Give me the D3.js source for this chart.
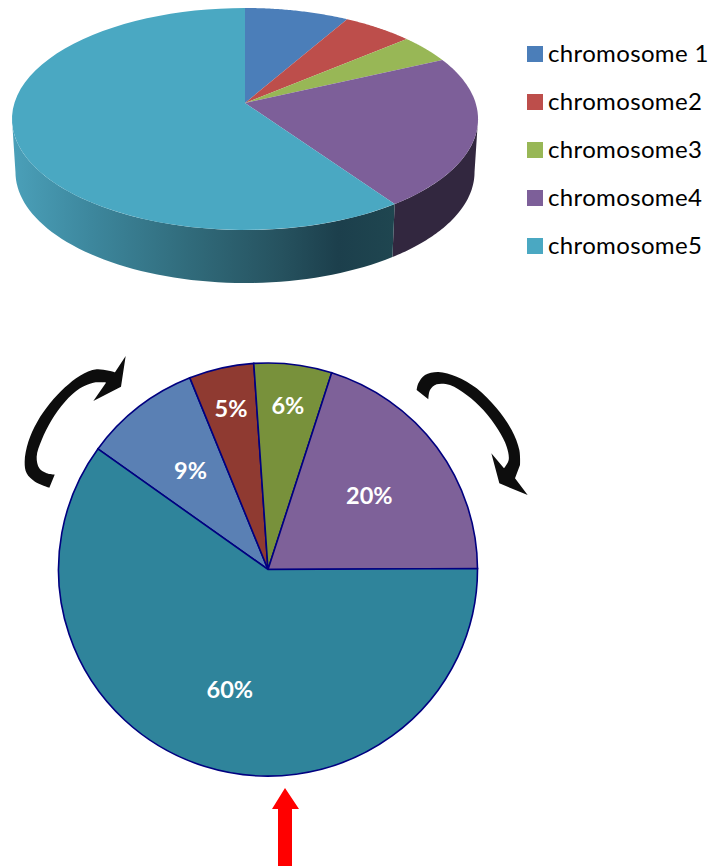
<!DOCTYPE html>
<html><head><meta charset="utf-8">
<script src="https://cdn.jsdelivr.net/npm/d3@7"></script>
<style>html,body{margin:0;padding:0;background:#fff}svg{display:block}text{font-family:Lato,"Open Sans",sans-serif}</style>
</head><body><svg id="c" width="714" height="866"></svg>
<script>
const categories = ["chromosome 1","chromosome2","chromosome3","chromosome4","chromosome5"];
const topValues = [8.3,5.6,4.2,22.2,59.7];
const bottomValues = [9,5,6,20,60];
const bottomLabels = ["9%","5%","6%","20%","60%"];
const topColors = ["#4b7eb9","#bd4e4b","#98b756","#7d5f99","#4aa8c2"];
const wallColors = ["#2c4a70","#71302e","#5b6e33","#32273f","url(#wall)"];
const bottomColors = ["#5a80b4","#8f3a31","#78913b","#7e6199","#2f849b"];
const wallStops = [[0,"#4a9fb8"],[0.2,"#3d879d"],[0.45,"#316c7c"],[0.7,"#26525f"],[0.85,"#1c3f4c"],[1,"#1f4650"]];

const svg = d3.select("#c");
const defs = svg.append("defs");
const grad = defs.append("linearGradient").attr("id","wall").attr("gradientUnits","userSpaceOnUse")
  .attr("x1",15).attr("x2",395).attr("y1",0).attr("y2",0);
wallStops.forEach(s=>grad.append("stop").attr("offset",s[0]).attr("stop-color",s[1]));

const pie = d3.pie().sort(null).value(d=>d);

// --- perspective pie ---
const persp = 0.144, cx3 = 245, cy3 = 103, kx = 230.6, ky = 108.7, depth = 53, wallScale = 0.985;
const visStart = Math.acos(-persp), visEnd = 2*Math.PI-visStart;
function rim(t){ const u=Math.sin(t), v=Math.cos(t), d=1+persp*v; return [cx3+kx*u/d, cy3-ky*v/d]; }
function lowRim(t){ const p=rim(t); return [cx3+(p[0]-cx3)*wallScale, p[1]+depth]; }
const line = d3.line();
const sampleRange = (a,b) => d3.range(0,61).map(i=>a+(b-a)*i/60);
const arcs3 = pie.startAngle(0).endAngle(2*Math.PI)(topValues);

const g3 = svg.append("g");
g3.selectAll("path.wall").data(arcs3.filter(d=>d.endAngle>visStart && d.startAngle<visEnd)).join("path").attr("class","wall")
  .attr("d",d=>{const s=sampleRange(Math.max(d.startAngle,visStart),Math.min(d.endAngle,visEnd));
    return line([...s.map(rim),...s.slice().reverse().map(lowRim)])+"Z";})
  .attr("fill",d=>wallColors[d.index]);
g3.selectAll("path.top").data(arcs3).join("path").attr("class","top")
  .attr("d",d=>line([[cx3,cy3],...sampleRange(d.startAngle,d.endAngle).map(rim)])+"Z")
  .attr("fill",d=>topColors[d.index]);

// --- legend ---
const ly = d3.scalePoint().domain(categories).range([54,246]);
const leg = svg.append("g").selectAll("g").data(categories).join("g").attr("transform",d=>`translate(527,${ly(d)})`);
leg.append("rect").attr("x",0).attr("y",-8).attr("width",16).attr("height",16).attr("fill",(d,i)=>topColors[i]);
leg.append("text").attr("x",21).attr("y",8).attr("font-size",24).attr("letter-spacing",0.35).attr("fill","#000").text(d=>d);

// --- flat pie ---
const start = -54.3*Math.PI/180;
const arcs2 = pie.startAngle(start).endAngle(start+2*Math.PI)(bottomValues);
const R = 209.5;
const arc = d3.arc().innerRadius(0).outerRadius(R);
const labelRadius = [0.6,0.79,0.79,0.6,0.6];
const g2 = svg.append("g").attr("transform","translate(268,569.5)");
g2.selectAll("path").data(arcs2).join("path").attr("d",arc).attr("transform","scale(1,0.986)")
  .attr("fill",(d,i)=>bottomColors[i]).attr("stroke","#000080").attr("stroke-width",1.6);
g2.selectAll("text").data(arcs2).join("text")
  .attr("transform",(d,i)=>{const m=(d.startAngle+d.endAngle)/2,r=R*labelRadius[i];return `translate(${r*Math.sin(m)},${-r*Math.cos(m)})`;})
  .attr("text-anchor","middle").attr("dy","0.36em").attr("fill","#fff").attr("font-weight",700).attr("font-size",23.5)
  .text((d,i)=>bottomLabels[i]);

// --- annotation arrows (outlines through traced points) ---
const smooth = d3.line().curve(d3.curveCatmullRom);
function arrow(ox,oy,a,head,b){
  const f=p=>p.map(q=>[ox+q[0]/3,oy+q[1]/3]);
  const pa=f(a),ph=f(head),pb=f(b);
  return smooth(pa)+ph.map(p=>`L${p[0]},${p[1]}`).join("")+"L"+smooth(pb).slice(1)+"Z";
}
svg.append("path").attr("fill","#0d0d0d").attr("d",arrow(0,340,
 [[148,443],[105,425],[80,400],[74,365],[85,305],[112,245],[150,190],[195,142],[240,107],[290,88],[345,97]],
 [[377,48],[363,140],[280,183]],
 [[318,128],[280,128],[240,145],[195,185],[155,240],[125,300],[110,350],[118,385],[140,400],[164,404]]));
svg.append("path").attr("fill","#0d0d0d").attr("d",arrow(400,350,
 [[85,148],[90,120],[110,103],[150,105],[200,135],[250,180],[295,240],[320,290],[326,330],[312,355]],
 [[274,310],[298,400],[383,435],[345,385]],
 [[360,345],[358,300],[335,240],[290,175],[230,115],[170,80],[115,66],[75,75],[55,100],[50,120]]));
svg.append("path").attr("fill","#ff0000").attr("d","M285,788 L299,809 L292,809 L292,866 L278,866 L278,809 L272,809Z");
</script></body></html>
